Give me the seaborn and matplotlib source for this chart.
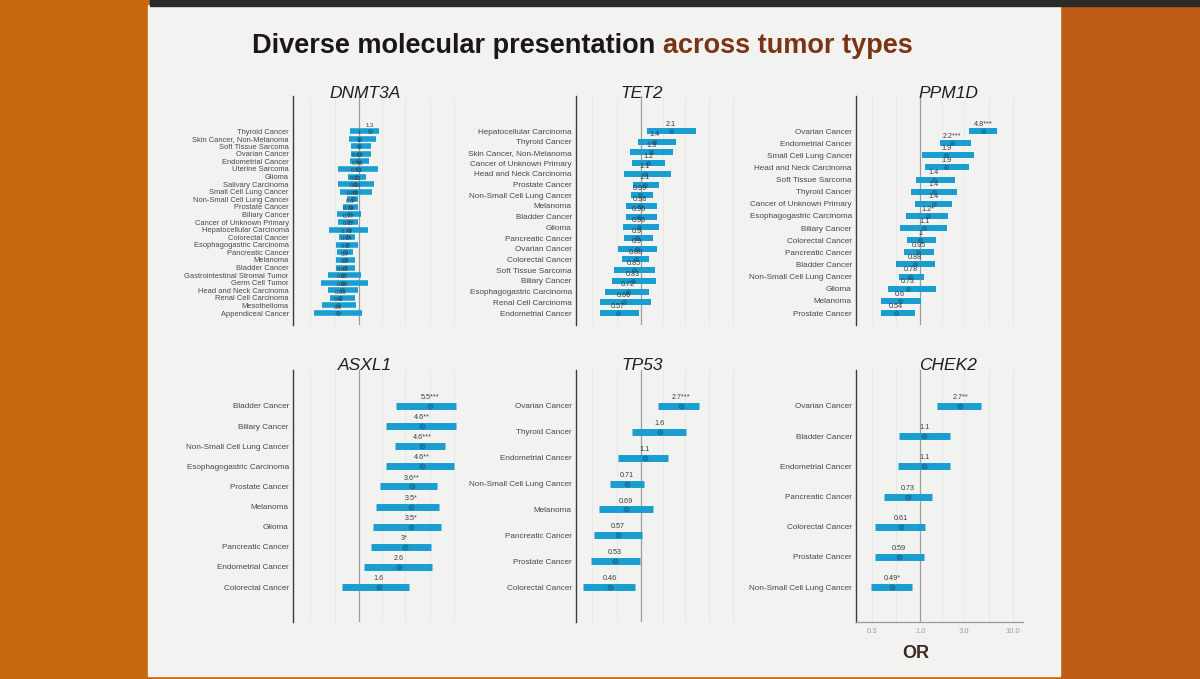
import matplotlib
matplotlib.use("Agg")
import matplotlib.pyplot as plt
from matplotlib.patches import Rectangle
from matplotlib.ticker import FixedLocator, NullFormatter
import numpy as np
import pandas as pd
import seaborn as sns

# ---------------- data ----------------
dnmt3a_types = ["Thyroid Cancer", "Skin Cancer, Non-Melanoma", "Soft Tissue Sarcoma", "Ovarian Cancer",
                "Endometrial Cancer", "Uterine Sarcoma", "Glioma", "Salivary Carcinoma",
                "Small Cell Lung Cancer", "Non-Small Cell Lung Cancer", "Prostate Cancer", "Biliary Cancer",
                "Cancer of Unknown Primary", "Hepatocellular Carcinoma", "Colorectal Cancer",
                "Esophagogastric Carcinoma", "Pancreatic Cancer", "Melanoma", "Bladder Cancer",
                "Gastrointestinal Stromal Tumor", "Germ Cell Tumor", "Head and Neck Carcinoma",
                "Renal Cell Carcinoma", "Mesothelioma", "Appendiceal Cancer"]
dnmt3a_or = [1.3, 1.0, 1.0, 1.0, 0.97, 0.96, 0.93, 0.91, 0.91, 0.85, 0.8, 0.78, 0.77, 0.77, 0.74,
             0.74, 0.7, 0.7, 0.7, 0.67, 0.67, 0.66, 0.63, 0.6, 0.6]
dnmt3a_lo = [0.79, 0.78, 0.82, 0.81, 0.79, 0.6, 0.76, 0.6, 0.62, 0.74, 0.67, 0.58, 0.6, 0.48, 0.61,
             0.57, 0.58, 0.57, 0.57, 0.47, 0.39, 0.47, 0.49, 0.4, 0.33]
dnmt3a_hi = [1.61, 1.51, 1.32, 1.32, 1.27, 1.58, 1.17, 1.43, 1.35, 0.96, 0.96, 1.04, 0.96, 1.22, 0.89,
             0.96, 0.85, 0.89, 0.89, 1.04, 1.22, 0.96, 0.89, 0.92, 1.08]
dnmt3a_stars = [""] * 25

tet2_types = ["Hepatocellular Carcinoma", "Thyroid Cancer", "Skin Cancer, Non-Melanoma",
              "Cancer of Unknown Primary", "Head and Neck Carcinoma", "Prostate Cancer",
              "Non-Small Cell Lung Cancer", "Melanoma", "Bladder Cancer", "Glioma", "Pancreatic Cancer",
              "Ovarian Cancer", "Colorectal Cancer", "Soft Tissue Sarcoma", "Biliary Cancer",
              "Esophagogastric Carcinoma", "Renal Cell Carcinoma", "Endometrial Cancer"]
tet2_or = [2.1, 1.4, 1.3, 1.2, 1.1, 1.1, 0.99, 0.98, 0.96, 0.96, 0.9, 0.9, 0.88, 0.85, 0.83, 0.72, 0.66, 0.57]
tet2_lo = [1.16, 0.94, 0.77, 0.81, 0.66, 0.83, 0.79, 0.69, 0.69, 0.65, 0.66, 0.57, 0.62, 0.52, 0.49,
           0.41, 0.36, 0.36]
tet2_hi = [3.9, 2.38, 2.25, 1.81, 2.1, 1.58, 1.34, 1.51, 1.51, 1.58, 1.34, 1.51, 1.23, 1.43, 1.45,
           1.23, 1.28, 0.96]
tet2_stars = [""] * 18

ppm1d_types = ["Ovarian Cancer", "Endometrial Cancer", "Small Cell Lung Cancer", "Head and Neck Carcinoma",
               "Soft Tissue Sarcoma", "Thyroid Cancer", "Cancer of Unknown Primary",
               "Esophagogastric Carcinoma", "Biliary Cancer", "Colorectal Cancer", "Pancreatic Cancer",
               "Bladder Cancer", "Non-Small Cell Lung Cancer", "Glioma", "Melanoma", "Prostate Cancer"]
ppm1d_or = [4.8, 2.2, 1.9, 1.9, 1.4, 1.4, 1.4, 1.2, 1.1, 1.0, 0.95, 0.88, 0.78, 0.73, 0.6, 0.54]
ppm1d_lo = [3.4, 1.65, 1.04, 1.13, 0.9, 0.79, 0.87, 0.7, 0.6, 0.72, 0.66, 0.54, 0.58, 0.44, 0.37, 0.37]
ppm1d_hi = [6.8, 3.5, 3.8, 3.4, 2.4, 2.5, 2.2, 2.0, 1.94, 1.48, 1.42, 1.45, 1.09, 1.47, 1.02, 0.87]
ppm1d_stars = ["***", "***", "", "", "", "", "", "*", "", "", "", "", "", "", "", ""]

asxl1_types = ["Bladder Cancer", "Biliary Cancer", "Non-Small Cell Lung Cancer", "Esophagogastric Carcinoma",
               "Prostate Cancer", "Melanoma", "Glioma", "Pancreatic Cancer", "Endometrial Cancer",
               "Colorectal Cancer"]
asxl1_or = [5.5, 4.6, 4.6, 4.6, 3.6, 3.5, 3.5, 3.0, 2.6, 1.6]
asxl1_lo = [2.45, 1.92, 2.37, 1.92, 1.64, 1.5, 1.39, 1.34, 1.11, 0.65]
asxl1_hi = [10.5, 10.4, 8.0, 9.9, 6.6, 7.0, 7.3, 5.7, 5.8, 3.3]
asxl1_stars = ["***", "**", "***", "**", "**", "*", "*", "*", "", ""]

tp53_types = ["Ovarian Cancer", "Thyroid Cancer", "Endometrial Cancer", "Non-Small Cell Lung Cancer",
              "Melanoma", "Pancreatic Cancer", "Prostate Cancer", "Colorectal Cancer"]
tp53_or = [2.7, 1.6, 1.1, 0.71, 0.69, 0.57, 0.53, 0.46]
tp53_lo = [1.53, 0.8, 0.57, 0.46, 0.35, 0.31, 0.29, 0.24]
tp53_hi = [4.3, 3.1, 1.95, 1.08, 1.36, 1.03, 0.97, 0.86]
tp53_stars = ["***", "", "", "", "", "", "", ""]

chek2_types = ["Ovarian Cancer", "Bladder Cancer", "Endometrial Cancer", "Pancreatic Cancer",
               "Colorectal Cancer", "Prostate Cancer", "Non-Small Cell Lung Cancer"]
chek2_or = [2.7, 1.1, 1.1, 0.73, 0.61, 0.59, 0.49]
chek2_lo = [1.53, 0.58, 0.57, 0.4, 0.32, 0.32, 0.29]
chek2_hi = [4.6, 2.08, 2.08, 1.34, 1.13, 1.1, 0.81]
chek2_stars = ["**", "", "", "", "", "", "*"]

x_ticks = [0.3, 1.0, 3.0, 10.0]
x_tick_labels = ["0.3", "1.0", "3.0", "10.0"]

# ---------------- style ----------------
W, H = 1200, 679
sns.set_theme(style="white")
plt.rcParams["font.family"] = ["Liberation Sans", "DejaVu Sans"]

BAR = "#1a9dd0"
DOT = "#1780ab"

fig = plt.figure(figsize=(W / 100, H / 100), dpi=100)
fig.patch.set_facecolor("#c66810")

# photographed slide
fig.patches.append(Rectangle((1060 / W, 0), 140 / W, 1, transform=fig.transFigure,
                             color="#bd5c15", zorder=-3))
fig.patches.append(Rectangle((148 / W, 1 - 676 / H), 912 / W, 671 / H, transform=fig.transFigure,
                             color="#f2f3f1", zorder=-2))
fig.patches.append(Rectangle((150 / W, 1 - 6 / H), 1050 / W, 6 / H, transform=fig.transFigure,
                             color="#2b2a28", zorder=-1))

# title in two colours
renderer = fig.canvas.get_renderer()
t1 = fig.text(252 / W, 1 - 53 / H, "Diverse molecular presentation ", fontsize=19.5,
              fontweight="bold", color="#1d1517", va="baseline", ha="left")
bb = t1.get_window_extent(renderer=renderer)
fig.text(bb.x1 / W, 1 - 53 / H, "across tumor types", fontsize=19.5, fontweight="bold",
         color="#7a3414", va="baseline", ha="left")

panels = [
    ("DNMT3A", dnmt3a_types, dnmt3a_or, dnmt3a_lo, dnmt3a_hi, dnmt3a_stars),
    ("TET2", tet2_types, tet2_or, tet2_lo, tet2_hi, tet2_stars),
    ("PPM1D", ppm1d_types, ppm1d_or, ppm1d_lo, ppm1d_hi, ppm1d_stars),
    ("ASXL1", asxl1_types, asxl1_or, asxl1_lo, asxl1_hi, asxl1_stars),
    ("TP53", tp53_types, tp53_or, tp53_lo, tp53_hi, tp53_stars),
    ("CHEK2", chek2_types, chek2_or, chek2_lo, chek2_hi, chek2_stars),
]

col_left = [293, 576, 856]
col_width = [172, 168, 167]
title_x = [365, 642, 948]
# (axes top, axes bottom, first row, last row, title y) in pixels
rows_px = [(96, 325, 131, 313, 93), (370, 622, 406, 587, 366)]

for k, (gene, types, ors, los, his, stars) in enumerate(panels):
    r, c = divmod(k, 3)
    top, bot, first, last, ty = rows_px[r]
    ax = fig.add_axes([col_left[c] / W, 1 - bot / H, col_width[c] / W, (bot - top) / H])
    ax.set_facecolor("none")

    n = len(types)
    df = pd.DataFrame({"type": types, "OR": ors, "lo": los, "hi": his,
                       "label": [f"{v:g}{s}" for v, s in zip(ors, stars)]})
    df["y"] = np.arange(n)[::-1]
    step = (last - first) / (n - 1)

    ax.set_xscale("log")
    ax.set_xlim(0.2, 13)
    ax.set_ylim(-(bot - last) / step, n - 1 + (first - top) / step)

    ax.xaxis.set_major_locator(FixedLocator(x_ticks))
    ax.xaxis.set_minor_locator(FixedLocator([0.55, 1.73, 5.5]))
    ax.xaxis.set_minor_formatter(NullFormatter())
    ax.grid(axis="x", which="both", color="#e4e5e5", lw=0.6)
    ax.axvline(1.0, color="#9c9c9c", lw=0.9, zorder=1)

    if gene == "DNMT3A":
        lw = 4.0
    elif r == 0:
        lw = 4.3
    else:
        lw = 5.0
    ax.hlines(df["y"], df["lo"], df["hi"], color=BAR, lw=lw, zorder=2)
    sns.scatterplot(data=df, x="OR", y="y", ax=ax, color=DOT, s=9 if r == 0 else 14,
                    edgecolor="#14658a", linewidth=0.4, zorder=3, legend=False)
    fs_val = 4.3 if gene == "DNMT3A" else 5.2
    for _, row in df.iterrows():
        ax.annotate(row["label"], (row["OR"], row["y"]), xytext=(0, 2.4 if r == 0 else 3.5),
                    textcoords="offset points", ha="center", va="bottom", fontsize=fs_val,
                    color="#3a3a3a", zorder=4)

    ax.set_yticks(df["y"])
    ax.set_yticklabels(df["type"], fontsize=5.4 if gene == "DNMT3A" else 5.9, color="#484848")
    ax.tick_params(axis="y", length=2, width=0.6, color="#444444", pad=1)
    ax.set_xlabel("")
    ax.set_ylabel("")
    for s in ["top", "right"]:
        ax.spines[s].set_visible(False)
    ax.spines["left"].set_color("#3c3c3c")
    ax.spines["left"].set_linewidth(1.0)
    if k == 5:
        ax.spines["bottom"].set_color("#9a9a9a")
        ax.spines["bottom"].set_linewidth(0.9)
        ax.set_xticklabels(x_tick_labels)
        ax.tick_params(axis="x", which="major", length=2, width=0.6, color="#9a9a9a",
                       labelsize=5.5, labelcolor="#9d9d9d", pad=2)
        ax.tick_params(axis="x", which="minor", length=0)
    else:
        ax.spines["bottom"].set_visible(False)
        ax.tick_params(axis="x", which="both", length=0, labelbottom=False)

    fig.text(title_x[c] / W, 1 - ty / H, gene, fontsize=12.5, fontstyle="italic",
             color="#1e1e1e", ha="center", va="center")

fig.text(916 / W, 1 - 654 / H, "OR", fontsize=13, fontweight="bold", color="#3a2a22",
         ha="center", va="center")

fig.savefig("out.png", dpi=100, facecolor=fig.get_facecolor())
